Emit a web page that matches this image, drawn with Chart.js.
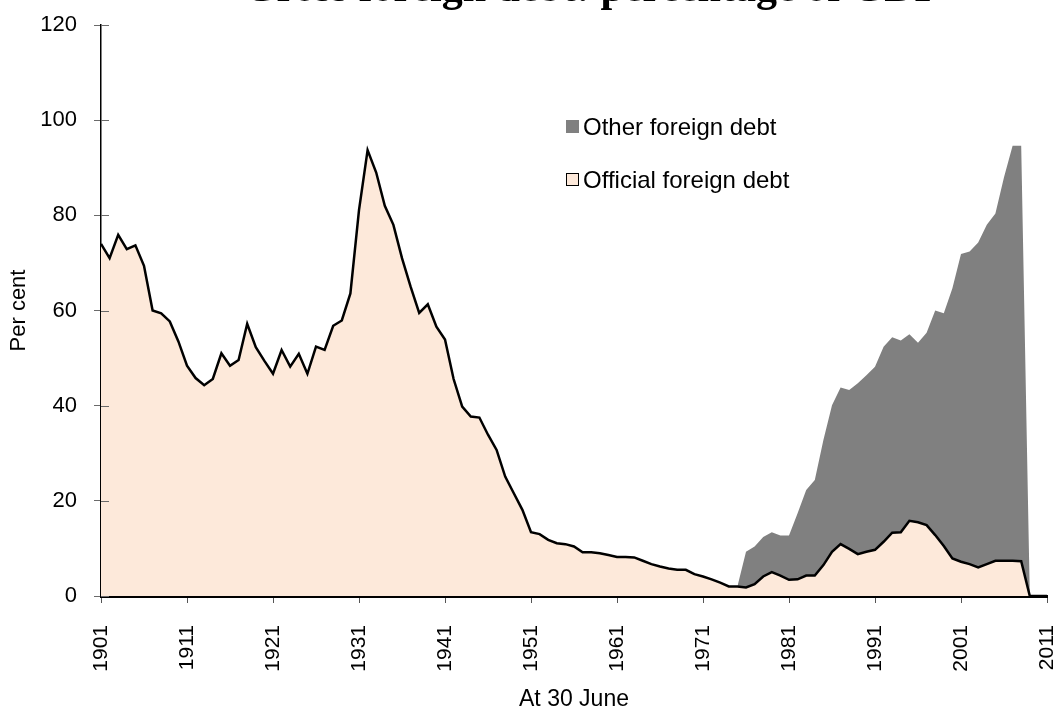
<!DOCTYPE html>
<html>
<head>
<meta charset="utf-8">
<script src="https://cdn.jsdelivr.net/npm/chart.js@4.4.1/dist/chart.umd.min.js"></script>
<style>
  body { margin: 0; background: #fff; }
  #wrap { position: relative; width: 1059px; height: 711px; overflow: hidden; }
  #legend { position: absolute; left: 566px; top: 0; font-family: Arial, "Liberation Sans", sans-serif; font-size: 24px; color: #000; }
  .item { position: absolute; left: 0; white-space: nowrap; line-height: 24px; }
  .swatch { position: absolute; left: 0; top: 5px; width: 13px; height: 13px; box-sizing: border-box; }
  .label { position: absolute; left: 17px; top: 0; }
</style>
</head>
<body>
<div id="wrap">
  <canvas id="debtChart" width="1059" height="711"></canvas>
  <div id="legend"></div>
</div>
<script>
const titleText = 'Gross foreign debt: percentage of GDP';

const years = [
  1901, 1902, 1903, 1904, 1905, 1906, 1907, 1908, 1909, 1910,
  1911, 1912, 1913, 1914, 1915, 1916, 1917, 1918, 1919, 1920,
  1921, 1922, 1923, 1924, 1925, 1926, 1927, 1928, 1929, 1930,
  1931, 1932, 1933, 1934, 1935, 1936, 1937, 1938, 1939, 1940,
  1941, 1942, 1943, 1944, 1945, 1946, 1947, 1948, 1949, 1950,
  1951, 1952, 1953, 1954, 1955, 1956, 1957, 1958, 1959, 1960,
  1961, 1962, 1963, 1964, 1965, 1966, 1967, 1968, 1969, 1970,
  1971, 1972, 1973, 1974, 1975, 1976, 1977, 1978, 1979, 1980,
  1981, 1982, 1983, 1984, 1985, 1986, 1987, 1988, 1989, 1990,
  1991, 1992, 1993, 1994, 1995, 1996, 1997, 1998, 1999, 2000,
  2001, 2002, 2003, 2004, 2005, 2006, 2007, 2008, 2009, 2010,
  2011
];

// official foreign debt, per cent
const officialDebt = [
  74.0, 71.0, 75.9, 72.9, 73.7, 69.4, 60.0, 59.4, 57.7, 53.5,
  48.4, 45.8, 44.3, 45.6, 51.0, 48.4, 49.6, 57.2, 52.3, 49.4,
  46.7, 51.7, 48.2, 50.9, 46.7, 52.4, 51.7, 56.8, 57.9, 63.6,
  81.1, 93.7, 89.0, 82.0, 78.0, 71.0, 65.0, 59.5, 61.3, 56.6,
  53.9, 45.6, 39.8, 37.7, 37.5, 33.9, 30.7, 25.1, 21.6, 18.1,
  13.4, 13.0, 11.8, 11.1, 10.9, 10.4, 9.2, 9.2, 9.0, 8.6,
  8.2, 8.2, 8.1, 7.4, 6.7, 6.2, 5.8, 5.5, 5.5, 4.6,
  4.1, 3.5, 2.8, 2.0, 2.0, 1.8, 2.5, 4.1, 5.0, 4.3,
  3.4, 3.5, 4.3, 4.3, 6.5, 9.3, 10.9, 9.9, 8.8, 9.3,
  9.7, 11.4, 13.3, 13.4, 15.8, 15.5, 14.9, 12.8, 10.5, 7.9,
  7.2, 6.7, 6.0, 6.7, 7.4, 7.4, 7.4, 7.3, 0, 0,
  0
];

const otherYears = [
  1975, 1976, 1977, 1978, 1979, 1980,
  1981, 1982, 1983, 1984, 1985, 1986, 1987, 1988, 1989, 1990,
  1991, 1992, 1993, 1994, 1995, 1996, 1997, 1998, 1999, 2000,
  2001, 2002, 2003, 2004, 2005, 2006, 2007, 2008, 2009, 2010,
  2011
];

// other foreign debt, per cent (sits on top of official)
const otherDebt = [
  0, 7.5, 7.9, 8.3, 8.4, 8.4,
  9.3, 13.9, 18.0, 20.1, 26.3, 30.8, 32.9, 33.4, 35.9, 37.1,
  38.5, 41.0, 41.1, 40.3, 39.2, 37.7, 40.4, 47.2, 48.9, 56.8,
  64.7, 65.7, 68.3, 71.3, 73.0, 80.6, 87.2, 87.3, 0, 0,
  0
];

const xTickYears = [1901, 1911, 1921, 1931, 1941, 1951, 1961, 1971, 1981, 1991, 2001, 2011];
const yTickValues = [0, 20, 40, 60, 80, 100, 120];

const FONT = 'Arial, "Liberation Sans", sans-serif';
const peach = '#fde9da';
const grey = '#808080';

// cross-style ticks on the y axis (the part inside the plot)
const innerTicks = {
  id: 'innerTicks',
  afterDatasetsDraw(chart) {
    const { ctx, scales: { x, y } } = chart;
    ctx.save();
    ctx.strokeStyle = '#6a6a6a';
    ctx.lineWidth = 1;
    y.ticks.forEach(t => {
      const py = Math.round(y.getPixelForValue(t.value)) + 0.5;
      ctx.beginPath();
      ctx.moveTo(x.left, py);
      ctx.lineTo(x.left + 8, py);
      ctx.stroke();
    });
    ctx.restore();
  }
};

// title sits mostly above the visible frame
const clippedTitle = {
  id: 'clippedTitle',
  afterDraw(chart) {
    const ctx = chart.ctx;
    ctx.save();
    ctx.font = 'bold 42px "Liberation Serif", "Times New Roman", serif';
    ctx.textAlign = 'center';
    ctx.textBaseline = 'alphabetic';
    ctx.fillStyle = '#000';
    ctx.fillText(titleText, 592, 1);
    ctx.restore();
  }
};

const chart = new Chart(document.getElementById('debtChart'), {
  type: 'line',
  data: {
    datasets: [
      {
        label: 'Official foreign debt',
        data: years.map((yr, i) => ({ x: yr, y: officialDebt[i] })),
        borderColor: '#000',
        borderWidth: 2.5,
        backgroundColor: peach,
        fill: 'origin',
        pointRadius: 0,
        tension: 0
      },
      {
        label: 'Other foreign debt',
        data: otherYears.map((yr, i) => ({ x: yr, y: otherDebt[i] })),
        borderColor: 'rgba(0,0,0,0)',
        borderWidth: 1,
        backgroundColor: grey,
        fill: '-1',
        pointRadius: 0,
        tension: 0
      }
    ]
  },
  options: {
    responsive: false,
    devicePixelRatio: 1,
    animation: false,
    events: [],
    layout: { padding: { top: 25, right: 12, left: 0, bottom: 0 } },
    plugins: {
      legend: { display: false },
      title: { display: false },
      tooltip: { enabled: false }
    },
    scales: {
      x: {
        type: 'linear',
        min: 1901,
        max: 2011,
        afterBuildTicks: s => { s.ticks = xTickYears.map(v => ({ value: v })); },
        afterFit: s => { s.height = 115; s.paddingLeft = 0; s.paddingRight = 0; },
        ticks: {
          autoSkip: false,
          minRotation: 90,
          maxRotation: 90,
          padding: 22,
          color: '#000',
          font: { family: FONT, size: 21 },
          callback: v => String(v)
        },
        grid: { drawOnChartArea: false, tickLength: 7, tickColor: '#555', tickWidth: 1 },
        border: { display: true, color: '#000', width: 3 },
        title: {
          display: true,
          text: 'At 30 June',
          color: '#000',
          font: { family: FONT, size: 23, lineHeight: 1 },
          padding: { top: 0, bottom: 0 }
        }
      },
      y: {
        stacked: true,
        min: 0,
        max: 120,
        afterBuildTicks: s => { s.ticks = yTickValues.map(v => ({ value: v })); },
        afterFit: s => { s.width = 101; s.paddingTop = 0; s.paddingBottom = 0; },
        ticks: {
          padding: 17,
          color: '#000',
          font: { family: FONT, size: 22 }
        },
        grid: { drawOnChartArea: false, tickLength: 7, tickColor: '#6a6a6a', tickWidth: 1 },
        border: { display: true, color: '#000', width: 1.5 },
        title: {
          display: true,
          text: 'Per cent',
          color: '#000',
          font: { family: FONT, size: 22, lineHeight: 1.2 },
          padding: { top: 6, bottom: 0 }
        }
      }
    }
  },
  plugins: [innerTicks, clippedTitle]
});

// legend: other first, then official
const legendEl = document.getElementById('legend');
const legendItems = [
  { ds: chart.data.datasets[1], top: 115, fill: grey, border: 'none' },
  { ds: chart.data.datasets[0], top: 168, fill: peach, border: '1.5px solid #000' }
];
legendItems.forEach(it => {
  const row = document.createElement('div');
  row.className = 'item';
  row.style.top = it.top + 'px';
  const sw = document.createElement('span');
  sw.className = 'swatch';
  sw.style.background = it.fill;
  sw.style.border = it.border;
  const lb = document.createElement('span');
  lb.className = 'label';
  lb.textContent = it.ds.label;
  row.appendChild(sw);
  row.appendChild(lb);
  legendEl.appendChild(row);
});
</script>
</body>
</html>
